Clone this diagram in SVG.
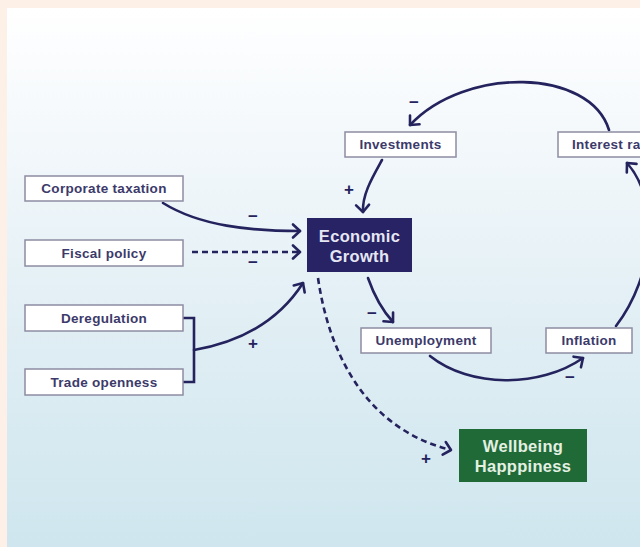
<svg xmlns="http://www.w3.org/2000/svg" width="640" height="547" viewBox="0 0 640 547">
<defs>
<linearGradient id="bg" x1="0" y1="0" x2="0" y2="1">
<stop offset="0" stop-color="#ffffff"/>
<stop offset="0.25" stop-color="#f3f8fb"/>
<stop offset="0.6" stop-color="#e0eef4"/>
<stop offset="1" stop-color="#cfe6ee"/>
</linearGradient>
<marker id="arr" markerUnits="userSpaceOnUse" markerWidth="14" markerHeight="16" refX="9" refY="8" orient="auto" overflow="visible">
<path d="M2,1.5 L9,8 L2,14.5" fill="none" stroke="#25235e" stroke-width="2.6" stroke-linecap="round" stroke-linejoin="round"/>
</marker>
<style>
.box{fill:#ffffff;stroke:#8d8ca3;stroke-width:1.5}
.lbl{font-family:"Liberation Sans",Arial,sans-serif;font-size:13.5px;font-weight:bold;letter-spacing:0.3px;fill:#3c3a6a;text-anchor:middle}
.big{font-family:"Liberation Sans",Arial,sans-serif;font-size:16.5px;font-weight:bold;letter-spacing:0.3px;text-anchor:middle}
.sign{font-family:"Liberation Sans",Arial,sans-serif;font-size:17px;font-weight:bold;fill:#25235e;text-anchor:middle}
.ln{fill:none;stroke:#25235e;stroke-width:2.6;stroke-linecap:round}
.dash{stroke-dasharray:6 4;stroke-linecap:butt}
</style>
</defs>
<rect x="0" y="0" width="640" height="547" fill="#fcf0e7"/>
<rect x="7" y="8" width="633" height="539" fill="url(#bg)"/>

<g id="connectors">
<path class="ln" d="M163,203 C200,226 250,231 300,231" marker-end="url(#arr)"/>
<path class="ln dash" d="M192,252 L300,252" marker-end="url(#arr)"/>
<path class="ln" d="M183,318 H194 V382 H183" stroke-linecap="butt"/>
<path class="ln" d="M194,350 C240,342 278,322 303,283" marker-end="url(#arr)"/>
<path class="ln" d="M382,160 C372,178 362,195 363,212" marker-end="url(#arr)"/>
<path class="ln" d="M609,130 C590,68 465,66 410,125" marker-end="url(#arr)"/>
<path class="ln" d="M368,278 C375,298 382,310 393,322" marker-end="url(#arr)"/>
<path class="ln" d="M430,356 C470,388 540,388 583,358" marker-end="url(#arr)"/>
<path class="ln" d="M616,326 C655,275 660,200 627,163" marker-end="url(#arr)"/>
<path class="ln dash" d="M318,278 C330,360 370,430 451,450" marker-end="url(#arr)"/>
<text class="sign" x="253" y="222">−</text>
<text class="sign" x="253" y="268">−</text>
<text class="sign" x="253" y="349">+</text>
<text class="sign" x="414" y="108">−</text>
<text class="sign" x="349" y="195">+</text>
<text class="sign" x="372" y="319">−</text>
<text class="sign" x="570" y="383">−</text>
<text class="sign" x="426" y="464">+</text>
</g>

<g id="corporate-taxation">
<rect class="box" x="25" y="176" width="158" height="25"/>
<text class="lbl" x="104" y="193">Corporate taxation</text>
</g>
<g id="fiscal-policy">
<rect class="box" x="25" y="240" width="158" height="26"/>
<text class="lbl" x="104" y="258">Fiscal policy</text>
</g>
<g id="deregulation">
<rect class="box" x="25" y="305" width="158" height="26"/>
<text class="lbl" x="104" y="323">Deregulation</text>
</g>
<g id="trade-openness">
<rect class="box" x="25" y="369" width="158" height="26"/>
<text class="lbl" x="104" y="387">Trade openness</text>
</g>
<g id="economic-growth">
<rect x="307" y="218" width="105" height="54" fill="#272365"/>
<text class="big" x="359.5" y="242" fill="#e6e6f2">Economic</text>
<text class="big" x="359.5" y="262" fill="#e6e6f2">Growth</text>
</g>
<g id="investments">
<rect class="box" x="345" y="132" width="111" height="25"/>
<text class="lbl" x="400.5" y="149">Investments</text>
</g>
<g id="interest-rate">
<rect class="box" x="558" y="132" width="100" height="25"/>
<text class="lbl" x="572" y="149" style="text-anchor:start">Interest rate</text>
</g>
<g id="unemployment">
<rect class="box" x="361" y="328" width="130" height="25"/>
<text class="lbl" x="426" y="345">Unemployment</text>
</g>
<g id="inflation">
<rect class="box" x="546" y="328" width="86" height="25"/>
<text class="lbl" x="589" y="345">Inflation</text>
</g>
<g id="wellbeing">
<rect x="459" y="429" width="128" height="53" fill="#1f6a37"/>
<text class="big" x="523" y="452" fill="#e3f0e2">Wellbeing</text>
<text class="big" x="523" y="472" fill="#e3f0e2">Happpiness</text>
</g>
</svg>
